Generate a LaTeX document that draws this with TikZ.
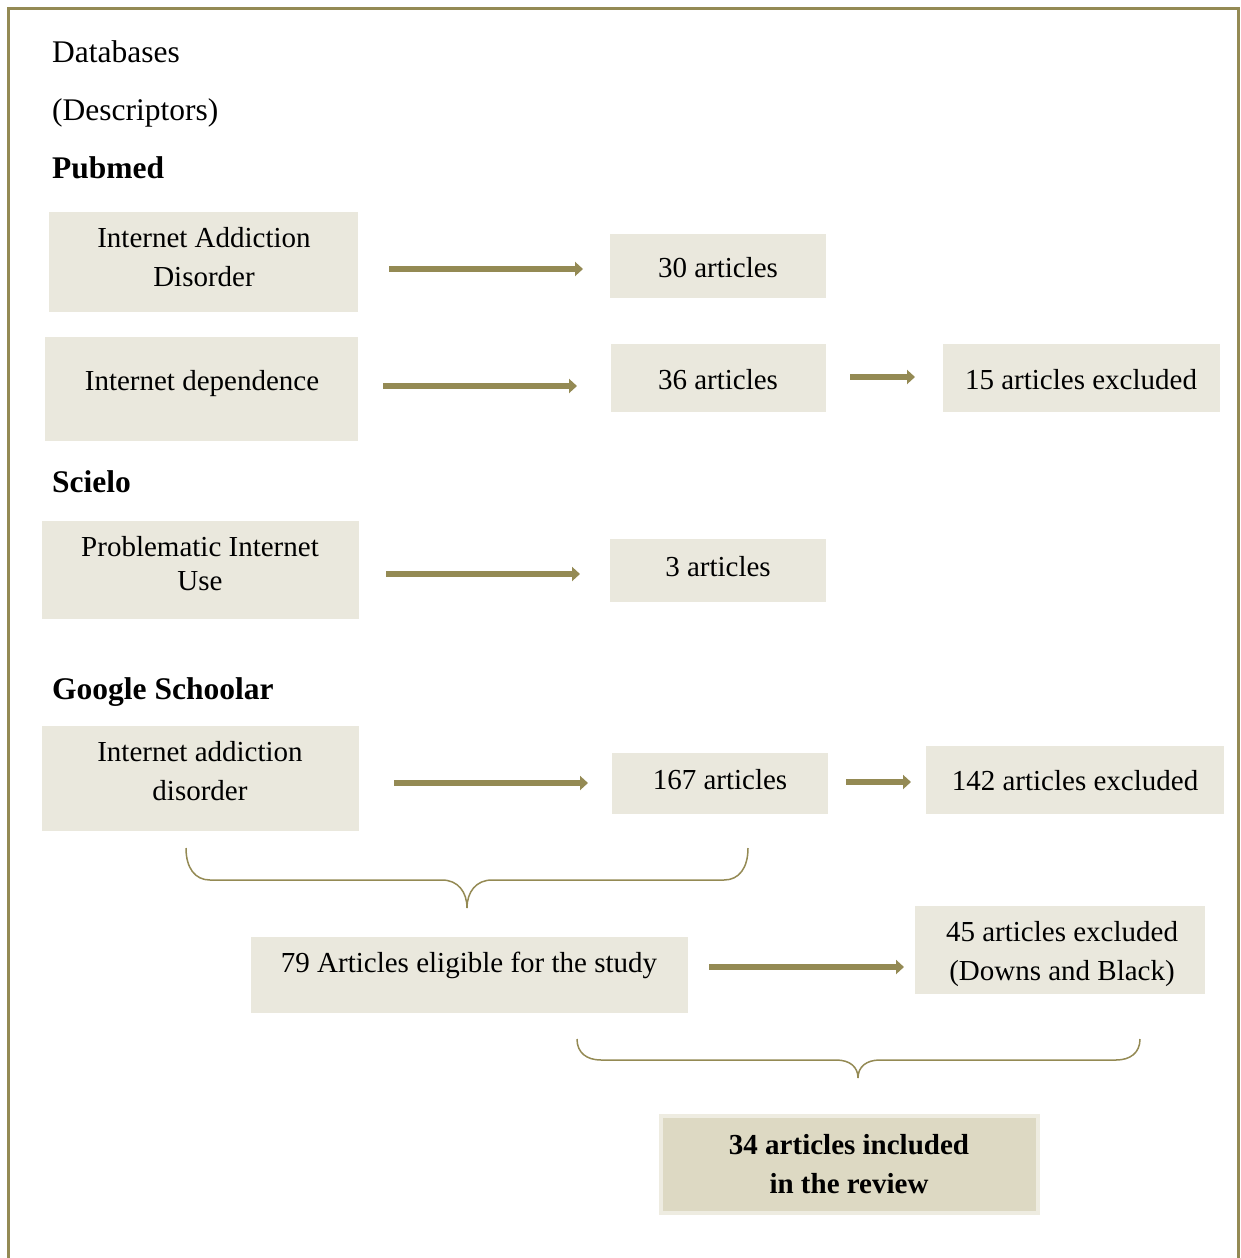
\documentclass[tikz,border=0pt]{standalone}
\usepackage{fontspec}
\setmainfont{Liberation Serif}
\usetikzlibrary{arrows.meta,calc}
\definecolor{olivec}{HTML}{948A54}
\definecolor{boxfill}{HTML}{EAE8DD}
\definecolor{boxdark}{HTML}{DDD9C3}
\definecolor{boxrim}{HTML}{EEECE1}
\newcommand{\boxfont}{\fontsize{29}{39}\selectfont}
\newcommand{\headfont}{\fontsize{31.5}{40}\selectfont}
\newcommand{\two}[2]{\begin{tabular}[t]{@{}c@{}}#1\\#2\end{tabular}}
\begin{document}
\begin{tikzpicture}[x=1pt,y=-1pt,
  box/.style={fill=boxfill, draw=none, inner sep=0pt, outer sep=0pt},
  finalbox/.style={fill=boxdark, draw=boxrim, line width=4pt, inner sep=0pt},
  txt/.style={anchor=base, inner sep=0pt, font=\boxfont},
  head/.style={anchor=base west, inner sep=0pt, font=\headfont},
  arr/.style={draw=olivec, line width=6pt, -{Triangle[length=8pt,width=14pt]}},
  brace/.style={draw=olivec, line width=1.5pt}]
\useasboundingbox (0,0) rectangle (1240,1258);
\draw[olivec, line width=3pt] (8,1262) -- (8,8) -- (1238,8) -- (1238,1262);

% headings
\node[head] (h1) at (52,62) {Databases};
\node[head] (h2) at (52,120) {(Descriptors)};
\node[head] (h3) at (52,178) {\bfseries Pubmed};
\node[head] (h4) at (52,492) {\bfseries Scielo};
\node[head] (h5) at (52,699) {\bfseries Google Schoolar};

% boxes
\node[box, minimum width=309pt, minimum height=100pt] (b1) at (203.5,262) {};
\node[box, minimum width=216pt, minimum height=64pt] (b2) at (718,266) {};
\node[box, minimum width=313pt, minimum height=104pt] (b3) at (201.5,389) {};
\node[box, minimum width=215pt, minimum height=68pt] (b4) at (718.5,378) {};
\node[box, minimum width=277pt, minimum height=68pt] (b5) at (1081.5,378) {};
\node[box, minimum width=317pt, minimum height=98pt] (b6) at (200.5,570) {};
\node[box, minimum width=216pt, minimum height=63pt] (b7) at (718,570.5) {};
\node[box, minimum width=317pt, minimum height=105pt] (b8) at (200.5,778.5) {};
\node[box, minimum width=216pt, minimum height=61pt] (b9) at (720,783.5) {};
\node[box, minimum width=298pt, minimum height=68pt] (b10) at (1075,780) {};
\node[box, minimum width=437pt, minimum height=76pt] (b11) at (469.5,975) {};
\node[box, minimum width=290pt, minimum height=88pt] (b12) at (1060,950) {};
\node[finalbox, minimum width=377pt, minimum height=97pt] (b13) at (849.5,1164.5) {};

% texts
\node[txt] (t1) at (204,247) {\two{Internet Addiction}{Disorder}};
\node[txt] (t2) at (718,277) {30 articles};
\node[txt] (t3) at (202,390) {Internet dependence};
\node[txt] (t4) at (718,389) {36 articles};
\node[txt] (t5) at (1081,389) {15 articles excluded};
\node[txt] (t6) at (200,556) {\begin{tabular}[t]{@{}c@{}}Problematic Internet\\[-5pt]Use\end{tabular}};
\node[txt] (t7) at (718,576) {3 articles};
\node[txt] (t8) at (200,761) {\two{Internet addiction}{disorder}};
\node[txt] (t9) at (720,789) {167 articles};
\node[txt] (t10) at (1075,790) {142 articles excluded};
\node[txt] (t11) at (469,972) {79 Articles eligible for the study};
\node[txt] (t12) at (1062,941) {\two{45 articles excluded}{(Downs and Black)}};
\node[txt] (t13) at (849,1154) {\bfseries\two{34 articles included}{in the review}};

% arrows
\draw[arr, shorten <=31pt, shorten >=27pt] (b1.east |- 0,269) -- (b2.west |- 0,269);
\draw[arr, shorten <=25pt, shorten >=34pt] (b3.east |- 0,386) -- (b4.west |- 0,386);
\draw[arr, shorten <=27pt, shorten >=30pt] (b6.east |- 0,574) -- (b7.west |- 0,574);
\draw[arr, shorten <=35pt, shorten >=24pt] (b8.east |- 0,783) -- (b9.west |- 0,783);
\draw[arr, shorten <=24pt, shorten >=28pt] (b4.east |- 0,377) -- (b5.west |- 0,377);
\draw[arr, shorten <=18pt, shorten >=15pt] (b9.east |- 0,782) -- (b10.west |- 0,782);
\draw[arr, shorten <=21pt, shorten >=11pt] (b11.east |- 0,967) -- (b12.west |- 0,967);

% braces
\draw[brace] (186,848) .. controls (186,868) and (195,880) .. (210,880) -- (442,880)
  .. controls (458,880) and (467,892) .. (467,908)
  .. controls (467,892) and (476,880) .. (492,880) -- (724,880)
  .. controls (739,880) and (748,868) .. (748,848);
\draw[brace] (577,1039) .. controls (577,1053) and (587,1060) .. (601,1060) -- (836,1060)
  .. controls (850,1060) and (858,1067) .. (858,1078)
  .. controls (858,1067) and (866,1060) .. (880,1060) -- (1116,1060)
  .. controls (1130,1060) and (1140,1053) .. (1140,1039);
\end{tikzpicture}
\end{document}
